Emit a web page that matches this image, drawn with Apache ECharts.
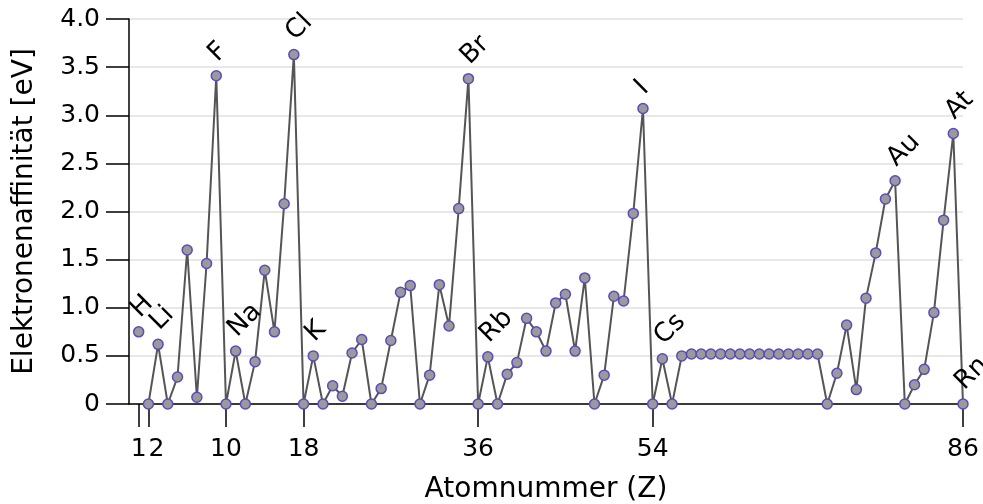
<!DOCTYPE html>
<html>
<head>
<meta charset="utf-8">
<script src="https://cdn.jsdelivr.net/npm/echarts@6/dist/echarts.min.js"></script>
<style>
  html, body { margin: 0; padding: 0; background: #fff; }
  #chart { width: 983px; height: 504px; }
</style>
</head>
<body>
<div id="chart"></div>
<script>
// Elektronenaffinität [eV] für Z = 1 .. 86
var affinity = [
  0.75, 0, 0.62, 0, 0.28, 1.60, 0.07, 1.46, 3.41, 0,
  0.55, 0, 0.44, 1.39, 0.75, 2.08, 3.63, 0, 0.50, 0,
  0.19, 0.08, 0.53, 0.67, 0, 0.16, 0.66, 1.16, 1.23, 0,
  0.30, 1.24, 0.81, 2.03, 3.38, 0, 0.49, 0, 0.31, 0.43,
  0.89, 0.75, 0.55, 1.05, 1.14, 0.55, 1.31, 0, 0.30, 1.12,
  1.07, 1.98, 3.07, 0, 0.47, 0, 0.50,
  0.52, 0.52, 0.52, 0.52, 0.52, 0.52, 0.52, 0.52, 0.52, 0.52, 0.52, 0.52, 0.52, 0.52,
  0, 0.32, 0.82, 0.15, 1.10, 1.57, 2.13, 2.32, 0, 0.20, 0.36, 0.95, 1.91, 2.81, 0
];
// beschriftete Elemente
var labelZ = [1, 3, 9, 11, 17, 19, 35, 37, 53, 55, 79, 85, 86];
var labelSym = ['H', 'Li', 'F', 'Na', 'Cl', 'K', 'Br', 'Rb', 'I', 'Cs', 'Au', 'At', 'Rn'];
var xTicks = [1, 2, 10, 18, 36, 54, 86];
// 1 und 2 liegen so dicht, dass ECharts eine Beschriftung wegnimmt -> zweite Achse
var xTicksA = [1, 10, 18, 36, 54, 86];
var xTicksB = [2];

var FONT = 'DejaVu Sans';

function point(z) {
  var item = { value: [z, affinity[z - 1]] };
  var k = labelZ.indexOf(z);
  if (k >= 0) {
    item.label = { show: true, formatter: labelSym[k] };
  }
  return item;
}

var hydrogen = [point(1)];
var rest = [];
for (var z = 2; z <= affinity.length; z++) rest.push(point(z));

var pointLabel = {
  show: false,
  position: 'top',
  distance: 2,
  rotate: 45,
  align: 'left',
  verticalAlign: 'bottom',
  offset: [5, 3],
  fontFamily: FONT,
  fontSize: 26,
  color: '#000'
};
var markerStyle = {
  color: '#9a9a9a',
  borderColor: '#5a4cc0',
  borderWidth: 1.5
};
var tickLabel = {
  margin: 33,
  fontFamily: FONT,
  fontSize: 25,
  color: '#000',
  showMinLabel: true,
  showMaxLabel: true,
  hideOverlap: false
};

var chart = echarts.init(document.getElementById('chart'));
chart.setOption({
  animation: false,
  grid: { left: 129, right: 20, top: 19, bottom: 100, outerBoundsMode: 'none', containLabel: false },
  xAxis: [
    {
      type: 'value',
      min: 0,
      max: 86,
      name: 'Atomnummer (Z)',
      nameLocation: 'middle',
      nameGap: 72,
      nameTextStyle: { fontFamily: FONT, fontSize: 28, color: '#000' },
      axisLine: { lineStyle: { color: '#000', width: 1.5 } },
      axisTick: { length: 23, lineStyle: { color: '#000', width: 1.5 }, customValues: xTicks },
      axisLabel: Object.assign({ customValues: xTicksA }, tickLabel),
      splitLine: { show: false }
    },
    {
      type: 'value',
      position: 'bottom',
      min: 0,
      max: 86,
      axisLine: { show: false },
      axisTick: { show: false },
      axisLabel: Object.assign({ customValues: xTicksB, align: 'left', padding: [0, 0, 0, 0] }, tickLabel),
      splitLine: { show: false }
    }
  ],
  yAxis: {
    type: 'value',
    min: 0,
    max: 4,
    interval: 0.5,
    name: 'Elektronenaffinität [eV]',
    nameLocation: 'middle',
    nameGap: 90,
    nameTextStyle: { fontFamily: FONT, fontSize: 28, color: '#000' },
    axisLine: { show: true, lineStyle: { color: '#000', width: 1.5 } },
    axisTick: { show: true, length: 23, lineStyle: { color: '#000', width: 1.5 } },
    axisLabel: {
      margin: 29,
      fontFamily: FONT,
      fontSize: 25,
      color: '#000',
      formatter: function (v) { return v === 0 ? '0' : v.toFixed(1); }
    },
    splitLine: { lineStyle: { color: '#e8e8e8', width: 2 } }
  },
  series: [
    {
      type: 'line',
      data: hydrogen,
      symbol: 'circle',
      symbolSize: 10,
      itemStyle: markerStyle,
      label: pointLabel
    },
    {
      type: 'line',
      data: rest,
      symbol: 'circle',
      symbolSize: 10,
      showAllSymbol: true,
      lineStyle: { color: '#555', width: 2 },
      itemStyle: markerStyle,
      label: pointLabel
    }
  ]
});
</script>
</body>
</html>
